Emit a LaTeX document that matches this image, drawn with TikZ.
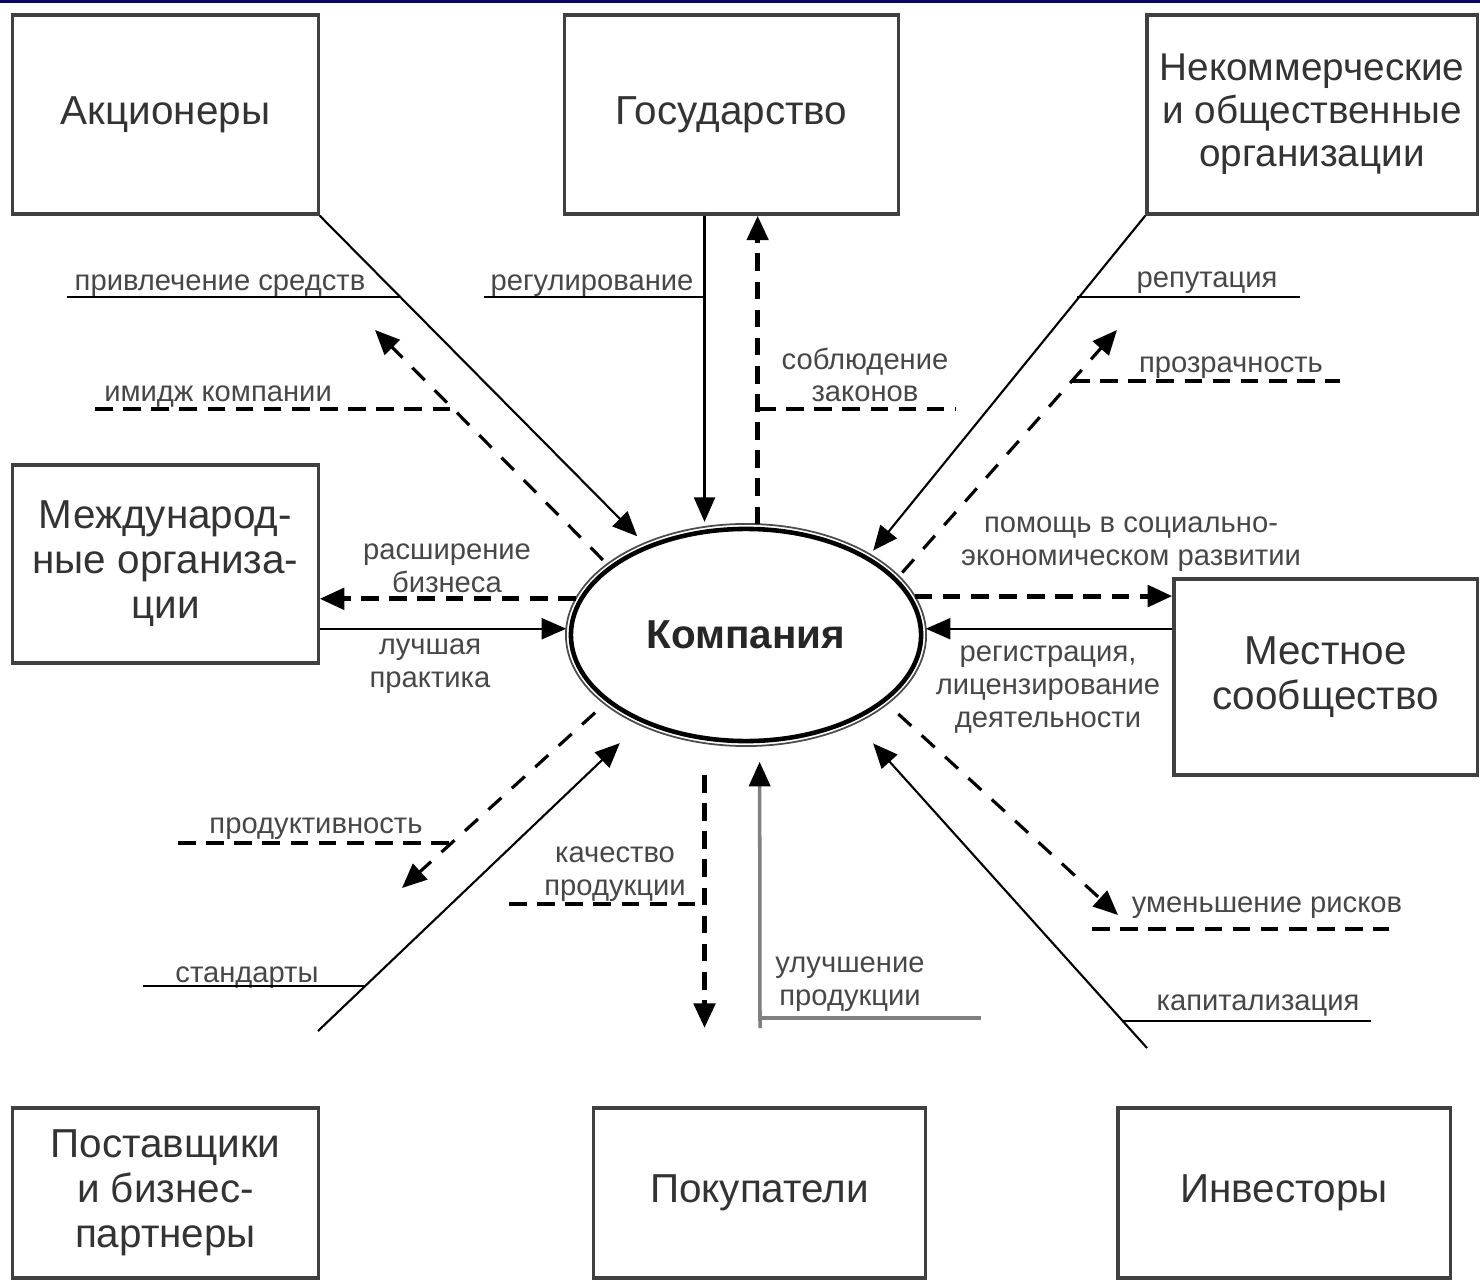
\documentclass[tikz,border=0pt]{standalone}
\usepackage{fontspec}
\setmainfont{Liberation Sans}
\usetikzlibrary{arrows.meta,shapes.geometric}
\definecolor{navy}{RGB}{8,8,112}
\tikzset{
  party/.style={draw=black!75, line width=0.9pt, fill=white, minimum width=3.05cm,
    minimum height=1.99cm, align=center, text=black!80, font=\fontsize{11.5}{12.8}\selectfont},
  lbl/.style={inner sep=0pt, anchor=base, align=center, text=black!72,
    font=\fontsize{8.3}{9.3}\selectfont},
  flow/.style={line width=0.6pt, -{Triangle[length=7pt,width=6pt]}},
  dflow/.style={line width=0.9pt, dash pattern=on 5pt off 4pt, -{Triangle[length=7pt,width=6pt]}},
  tflow/.style={line width=1.4pt, dash pattern=on 5pt off 3pt, -{Triangle[length=7pt,width=6pt]}},
  uline/.style={line width=0.6pt},
  duline/.style={line width=1.4pt, dash pattern=on 5pt off 3pt}
}
\begin{document}
\begin{tikzpicture}[x=0.01cm, y=-0.01cm]
\fill[white] (0,0) rectangle (1480,1283);
\fill[navy] (0,0) rectangle (1480,3);
\useasboundingbox (0,0) rectangle (1480,1283);

\node[party] (akc) at (165.5,114.5) {Акционеры};
\node[party, minimum width=3.33cm] (gos) at (731.5,114.5) {Государство};
\node[party, minimum width=3.30cm, font=\fontsize{11}{12.2}\selectfont] (nko) at (1312,114.5)
  {Некоммерческие\\и общественные\\организации};
\node[party, minimum height=1.98cm] (mezh) at (165.5,564) {Международ-\\ные организа-\\ции};
\node[party, minimum width=3.03cm, minimum height=1.96cm] (mest) at (1325.5,677) {Местное\\сообщество};
\node[party, minimum height=1.70cm] (post) at (165.5,1193) {Поставщики\\и бизнес-\\партнеры};
\node[party, minimum width=3.32cm, minimum height=1.70cm] (pok) at (759.5,1193) {Покупатели};
\node[party, minimum width=3.32cm, minimum height=1.70cm] (inv) at (1284,1193) {Инвесторы};

\node[ellipse, draw=black!70, line width=0.5pt, minimum width=3.60cm, minimum height=2.22cm,
  inner sep=0pt, outer sep=0pt, text=black!85, font=\bfseries\fontsize{11.5}{13}\selectfont]
  (komp) at (746,635) {Компания};
\draw[line width=1.3pt] (komp.center) ellipse (1.75cm and 1.06cm);

\coordinate (akA) at (375,330);
\coordinate (nkA) at (1117,330);
\coordinate (psA) at (318,1031);
\coordinate (psB) at (402,888);
\coordinate (pkA) at (705,1028);
\coordinate (pkB) at (760,1028);
\coordinate (ivA) at (1118,915);
\coordinate (ivB) at (1147,1048);

\draw[flow, shorten >=1mm] (akc.south east) -- (komp.138);
\draw[dflow, shorten <=0.6mm] (komp.153) -- (akA);
\draw[flow, shorten >=0.5mm] (gos.south -| komp.111) -- (komp.111);
\draw[tflow] (komp.84) -- (komp.84 |- gos.south);
\draw[flow, shorten >=0.5mm] (nko.south west) -- (komp.33);
\draw[dflow, shorten <=0.5mm] (komp.21) -- (nkA);
\draw[tflow] (komp.168) -- (komp.168 -| mezh.east);
\draw[flow] (komp.178 -| mezh.east) -- (komp.178);
\draw[tflow] (komp.13) -- (komp.13 -| mest.west);
\draw[flow] (komp.2 -| mest.west) -- (komp.2);
\draw[dflow, shorten <=1.3mm] (komp.206) -- (psB);
\draw[flow, shorten >=2.7mm] (psA) -- (komp.220);
\draw[tflow, shorten <=3.2mm] (komp.249) -- (komp.249 |- pkA);
\draw[line width=1pt, draw=black!50, -{Triangle[length=7pt,width=6pt,color=black]},
  shorten >=1.6mm] (pkB) -- (komp.277);
\draw[dflow, shorten <=1.5mm] (komp.334) -- (ivA);
\draw[flow, shorten >=2.7mm] (ivB) -- (komp.321);

\node[lbl] (l1) at (220,291) {привлечение средств};
\draw[uline] (67,297) -- (401,297);
\node[lbl] (l2) at (592,291) {регулирование};
\draw[uline] (484,297) -- (705,297);
\node[lbl] (l3) at (218,402) {имидж компании};
\draw[duline] (95,409) -- (453,409);
\node[lbl] (l4) at (865,402) {соблюдение\\законов};
\draw[duline] (758,409) -- (955,409);
\node[lbl] (l5) at (1207,288) {репутация};
\draw[uline] (1077,297) -- (1300,297);
\node[lbl] (l6) at (1231,373) {прозрачность};
\draw[duline] (1072,381) -- (1340,381);
\node[lbl] (l7) at (1131,565) {помощь в социально-\\экономическом развитии};
\node[lbl] (l8) at (447,592) {расширение\\бизнеса};
\node[lbl] (l9) at (430,687) {лучшая\\практика};
\node[lbl] (l10) at (1048,727) {регистрация,\\лицензирование\\деятельности};
\node[lbl] (l11) at (316,833) {продуктивность};
\draw[duline] (178,843) -- (450,843);
\node[lbl] (l12) at (615,895) {качество\\продукции};
\draw[duline] (509,904) -- (705,904);
\node[lbl] (l13) at (247,982) {стандарты};
\draw[uline] (143,986) -- (365,986);
\node[lbl] (l14) at (850,1005) {улучшение\\продукции};
\draw[line width=1pt, draw=black!50] (760,1018) -- (981,1018);
\node[lbl] (l15) at (1267,912) {уменьшение рисков};
\draw[duline] (1092,929) -- (1389,929);
\node[lbl] (l16) at (1258,1010) {капитализация};
\draw[uline] (1123,1021) -- (1371,1021);
\end{tikzpicture}
\end{document}
